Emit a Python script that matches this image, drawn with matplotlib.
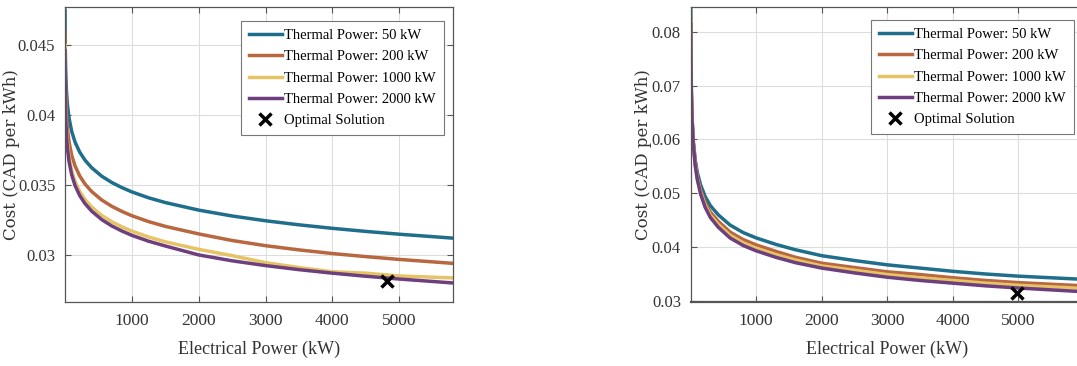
import matplotlib.pyplot as plt

# series colours (MATLAB-like palette from the figure)
COLORS = ["#1f6e8c", "#b8673f", "#e6c466", "#6e3f7e"]
LABELS = ["Thermal Power: 50 kW", "Thermal Power: 200 kW",
          "Thermal Power: 1000 kW", "Thermal Power: 2000 kW"]

# left panel
x_left = [1, 2, 5, 10, 20, 35, 60, 100, 150, 220, 300, 400, 550, 700, 850,
          1000, 1250, 1500, 2000, 2500, 3000, 3500, 4000, 4500, 5000, 5800]
left_50 = [0.04747, 0.04617, 0.04445, 0.04314, 0.04184, 0.04079, 0.03978,
           0.03882, 0.03806, 0.03734, 0.03676, 0.03622, 0.03562, 0.03517,
           0.03481, 0.0345, 0.03408, 0.03374, 0.0332, 0.03278, 0.03244,
           0.03215, 0.0319, 0.03168, 0.03148, 0.0312]
left_200 = [0.04587, 0.04447, 0.04275, 0.04144, 0.04014, 0.03909, 0.03808,
            0.03712, 0.03636, 0.03564, 0.03506, 0.03452, 0.03392, 0.03347,
            0.03311, 0.0328, 0.03238, 0.03204, 0.0315, 0.03103, 0.03066,
            0.03036, 0.0301, 0.02988, 0.02968, 0.0294]
left_1000 = [0.04497, 0.04347, 0.04185, 0.04044, 0.03914, 0.03809, 0.03703,
             0.03602, 0.03526, 0.03454, 0.03396, 0.03342, 0.03282, 0.03237,
             0.03201, 0.0317, 0.03128, 0.03094, 0.0304, 0.02995, 0.02945,
             0.0291, 0.0288, 0.0287, 0.0285, 0.02836]
left_2000 = [0.04457, 0.04317, 0.04145, 0.04004, 0.03874, 0.03769, 0.03668,
             0.03572, 0.03496, 0.03424, 0.03366, 0.03312, 0.03252, 0.03207,
             0.03171, 0.0314, 0.03098, 0.03064, 0.0300, 0.02958, 0.02924,
             0.02895, 0.0287, 0.02848, 0.02828, 0.0280]
opt_left = (4820, 0.02814)

# right panel
x_right = [1, 2, 5, 10, 20, 40, 70, 100, 150, 220, 300, 420, 600, 800, 1000,
           1300, 1600, 2000, 2500, 3000, 3500, 4000, 4500, 5000, 6000]
right_50 = [0.0880, 0.0823, 0.0746, 0.0692, 0.0642, 0.0596, 0.0561, 0.0539,
            0.0516, 0.0494, 0.0477, 0.0460, 0.0441, 0.0427, 0.0417, 0.0405,
            0.0395, 0.0384, 0.0375, 0.0367, 0.0361, 0.0355, 0.0350, 0.0346,
            0.0340]
right_200 = [0.0825, 0.0793, 0.0736, 0.0687, 0.0639, 0.0593, 0.0555, 0.0531,
             0.0506, 0.0483, 0.0465, 0.0448, 0.0428, 0.0414, 0.0404, 0.0392,
             0.0381, 0.0370, 0.0362, 0.0354, 0.0349, 0.0343, 0.0338, 0.0334,
             0.0328]
right_1000 = [0.0820, 0.0788, 0.0733, 0.0685, 0.0638, 0.0592, 0.0553, 0.0528,
              0.0502, 0.0478, 0.0459, 0.0442, 0.0422, 0.0408, 0.0398, 0.0386,
              0.0376, 0.0365, 0.0357, 0.0349, 0.0343, 0.0338, 0.0333, 0.0329,
              0.0323]
right_2000 = [0.0815, 0.0783, 0.0731, 0.0684, 0.0637, 0.0591, 0.0551, 0.0526,
              0.0499, 0.0474, 0.0455, 0.0437, 0.0417, 0.0403, 0.0393, 0.0381,
              0.0371, 0.0361, 0.0352, 0.0344, 0.0338, 0.0333, 0.0328, 0.0324,
              0.0317]
opt_right = (4980, 0.0315)

x_ticks = [1000, 2000, 3000, 4000, 5000]
y_ticks_left = [0.03, 0.035, 0.04, 0.045]
y_ticks_right = [0.03, 0.04, 0.05, 0.06, 0.07, 0.08]

TICK_FONT = "Liberation Serif"

fig = plt.figure(figsize=(10.77, 3.66), dpi=100)
ax1 = fig.add_axes([65 / 1077, 64 / 366, 387.7 / 1077, 295 / 366])
ax2 = fig.add_axes([690.7 / 1077, 64 / 366, 393.3 / 1077, 295 / 366])


def draw(ax, x, series, opt, xlim, ylim, yticks, yticklabels, leg_anchor,
         ylab_x):
    for ys, c, lab in zip(series, COLORS, LABELS):
        ax.plot(x, ys, color=c, lw=2.5, label=lab)
    ax.plot(opt[0], opt[1], "x", color="black", ms=8, mew=2.5,
            label="Optimal Solution", zorder=5)
    ax.set_xlim(xlim)
    ax.set_ylim(ylim)
    ax.set_xticks(x_ticks)
    ax.set_xticklabels([str(t) for t in x_ticks], fontfamily=TICK_FONT,
                       fontsize=12.5, color="#333333")
    ax.set_yticks(yticks)
    ax.set_yticklabels(yticklabels, fontfamily=TICK_FONT, fontsize=12,
                       color="#333333")
    ax.tick_params(direction="in", length=4, width=0.8, color="#555555",
                   top=True, right=True, pad=8)
    ax.tick_params(axis="y", pad=7)
    ax.grid(True, color="#dddddd", lw=0.8)
    ax.set_axisbelow(True)
    for s in ax.spines.values():
        s.set_color("#555555")
        s.set_linewidth(0.9)
    ax.set_xlabel("Electrical Power (kW)", fontfamily=TICK_FONT, fontsize=13,
                  color="#333333", labelpad=8)
    ax.set_ylabel("Cost (CAD per kWh)", fontfamily="DejaVu Serif", fontsize=12,
                  color="#333333")
    ax.yaxis.set_label_coords(ylab_x, 0.5)
    leg = ax.legend(loc="upper right", bbox_to_anchor=leg_anchor,
                    borderaxespad=0, fancybox=False, edgecolor="#777777",
                    framealpha=1, handlelength=2.3, handletextpad=0.15,
                    labelspacing=0.55, borderpad=0.55,
                    prop={"family": TICK_FONT, "size": 10.5})
    leg.get_frame().set_linewidth(0.8)


draw(ax1, x_left, [left_50, left_200, left_1000, left_2000], opt_left,
     (0, 5800), (0.02664, 0.0477), y_ticks_left,
     ["0.03", "0.035", "0.04", "0.045"], (0.9776, 0.9525), -0.116)
draw(ax2, x_right, [right_50, right_200, right_1000, right_2000], opt_right,
     (0, 6000), (0.0298, 0.0846), y_ticks_right,
     ["0.03", "0.04", "0.05", "0.06", "0.07", "0.08"], (0.9746, 0.956), -0.098)
ax2.spines["bottom"].set_linewidth(1.6)

fig.savefig("out.png", dpi=100)
